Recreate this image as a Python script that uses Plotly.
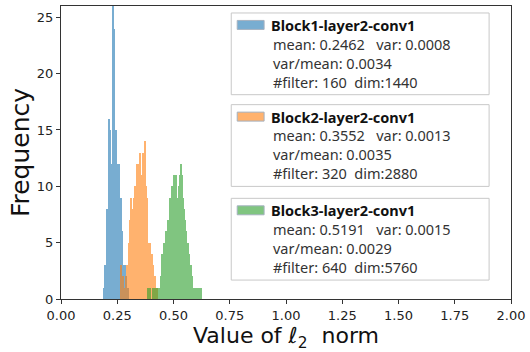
import numpy as np
import plotly.graph_objects as go

# Histogram counts of per-filter l2 norms (bin width 0.005)
bin_width = 0.005

block1_start = 0.190
block1_counts = [1, 3, 8, 6, 16, 15, 11, 12, 26, 24, 15, 12, 11, 12, 8, 9,
                 6, 3, 3, 2, 1, 1]

block2_start = 0.265
block2_counts = [3, 1, 2, 1, 2, 3, 2, 5, 7, 9, 8, 9, 10, 9, 12, 12, 11, 13,
                 11, 13, 12, 14, 10, 9, 5, 4, 5, 4, 3, 2, 2, 1, 1]

block3_start = 0.385
block3_counts = [1, 0, 1, 0, 1, 0, 1, 1, 0, 1, 1, 2, 4, 3, 5, 4, 6, 6, 7, 9,
                 8, 10, 10, 11, 10, 11, 9, 10, 11, 12, 11, 9, 8, 7, 6, 5, 4,
                 3, 3, 2, 1, 1, 1, 1, 1, 1, 1, 1]

series_names = ["Block1-layer2-conv1", "Block2-layer2-conv1", "Block3-layer2-conv1"]
series_stats = [
    ["mean: 0.2462   var: 0.0008", "var/mean: 0.0034", "#filter: 160  dim:1440"],
    ["mean: 0.3552   var: 0.0013", "var/mean: 0.0035", "#filter: 320  dim:2880"],
    ["mean: 0.5191   var: 0.0015", "var/mean: 0.0029", "#filter: 640  dim:5760"],
]
series_colors = ["#1f77b4", "#ff7f0e", "#2ca02c"]

x_ticks = [0.0, 0.25, 0.5, 0.75, 1.0, 1.25, 1.5, 1.75, 2.0]
x_tick_labels = ["0.00", "0.25", "0.50", "0.75", "1.00", "1.25", "1.50", "1.75", "2.00"]
y_ticks = [0, 5, 10, 15, 20, 25]

W, H = 530, 352
L, R, T, B = 61, 17, 5, 53
plot_w = W - L - R
plot_h = H - T - B


def px_x(px):
    return (px - L) / plot_w


def px_y(py):
    return (H - B - py) / plot_h


fig = go.Figure()

starts = [block1_start, block2_start, block3_start]
counts = [block1_counts, block2_counts, block3_counts]
for name, start, cnt, color in zip(series_names, starts, counts, series_colors):
    centers = start + bin_width * (np.arange(len(cnt)) + 0.5)
    fig.add_trace(go.Bar(
        x=centers, y=cnt, width=bin_width, name=name,
        marker=dict(color=color, line=dict(width=0)),
        opacity=0.6, showlegend=False,
    ))

# Custom legend boxes with statistics
legend_font = "Noto Sans, DejaVu Sans"
box_left, box_right = 232, 491
box_tops = [12, 104, 198]
box_h = 82
shapes = []
annotations = []
for top, name, stats, color in zip(box_tops, series_names, series_stats, series_colors):
    shapes.append(dict(
        type="rect", xref="paper", yref="paper",
        x0=px_x(box_left), x1=px_x(box_right),
        y0=px_y(top + box_h), y1=px_y(top),
        line=dict(color="#c8c8c8", width=1), fillcolor="white", layer="above",
    ))
    title_y = top + 12
    shapes.append(dict(
        type="rect", xref="paper", yref="paper",
        x0=px_x(238), x1=px_x(265),
        y0=px_y(title_y + 4.5), y1=px_y(title_y - 4.5),
        line=dict(color="#6a7f96", width=1), fillcolor=color, opacity=0.6,
        layer="above",
    ))
    annotations.append(dict(
        xref="paper", yref="paper", x=px_x(270), y=px_y(title_y),
        xanchor="left", yanchor="middle", showarrow=False,
        text="<b>" + name + "</b>",
        font=dict(family=legend_font, size=14.5, color="#111111"),
    ))
    # keep the runs of spaces between fields
    block = "<br>".join(s.replace("  ", "\u00a0\u00a0") for s in stats)
    annotations.append(dict(
        xref="paper", yref="paper", x=px_x(272), y=px_y(top + 50),
        xanchor="left", yanchor="middle", showarrow=False, align="left",
        text=block,
        font=dict(family=legend_font, size=14.5, color="#333333"),
    ))

fig.update_layout(
    width=W, height=H,
    margin=dict(l=L, r=R, t=T, b=B, pad=0),
    paper_bgcolor="white", plot_bgcolor="white",
    barmode="overlay", bargap=0,
    shapes=shapes, annotations=annotations,
    font=dict(family="DejaVu Sans", color="#222222"),
    xaxis=dict(
        range=[0, 2], tickvals=x_ticks, ticktext=x_tick_labels,
        showgrid=False, zeroline=False, ticks="outside", ticklen=4,
        tickcolor="#333333", tickfont=dict(size=13, family="DejaVu Sans"),
        showline=True, linecolor="#333333", linewidth=1, mirror=True,
        title=dict(text="Value of <i>ℓ</i><sub>2</sub>  norm",
                   font=dict(size=22, family="DejaVu Sans", color="#111111"),
                   standoff=6),
    ),
    yaxis=dict(
        range=[0, 26], tickvals=y_ticks,
        showgrid=False, zeroline=False, ticks="outside", ticklen=4,
        tickcolor="#333333", tickfont=dict(size=13, family="DejaVu Sans"),
        showline=True, linecolor="#333333", linewidth=1, mirror=True,
        title=dict(text="Frequency",
                   font=dict(size=25, family="DejaVu Sans", color="#111111"),
                   standoff=0),
    ),
)

fig.write_html("out.html")
